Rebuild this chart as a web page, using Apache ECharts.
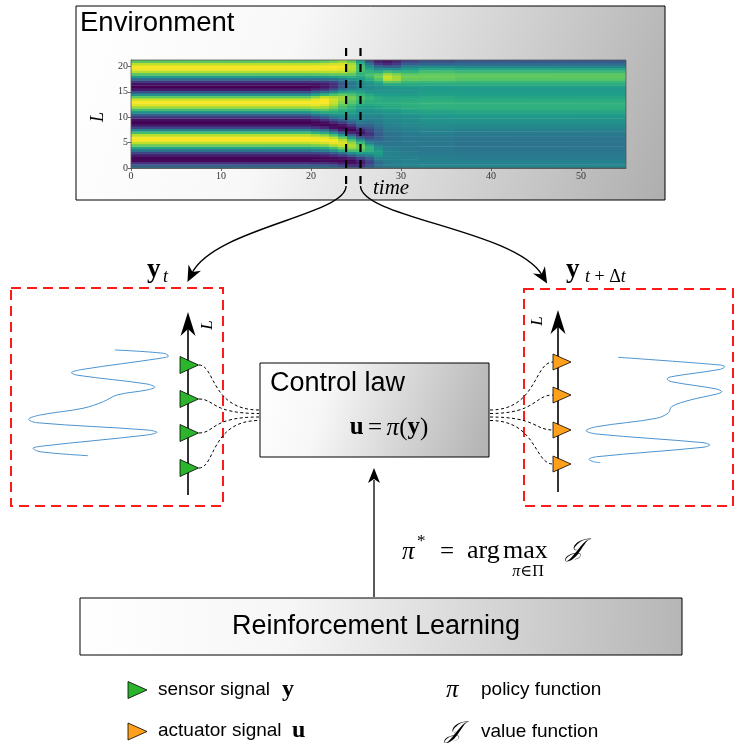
<!DOCTYPE html>
<html><head><meta charset="utf-8">
<script src="https://cdn.jsdelivr.net/npm/echarts@6/dist/echarts.min.js"></script>
<style>html,body{margin:0;padding:0;background:#fff}#c{width:735px;height:743px}</style>
</head><body><div id="c"></div>
<script>
// ---------------- DATA ----------------
const timeTicks = [0, 10, 20, 30, 40, 50];
const lengthTicks = [0, 5, 10, 15, 20];
const timeMax = 55;
const lengthMax = 21.25;
const lengthStep = 0.5;           // each profile: L = 0, 0.5, ... 21 (bottom to top), value 0..100
const profileSteady = [45,30,14,2,1,7,21,38,58,76,90,99,99,89,69,45,22,6,0,4,15,31,50,69,85,96,100,93,75,50,25,7,0,4,16,34,54,74,89,98,99,90,74];
const profileT20 = [45,30,14,2,1,7,22,40,60,78,92,99,98,86,64,40,16,3,1,8,22,38,56,73,88,97,100,97,82,58,32,12,2,4,16,34,54,74,89,98,99,90,74];
const profileT21 = [45,30,14,3,2,9,24,42,62,80,94,100,96,82,60,35,12,1,3,14,28,44,60,74,86,96,100,100,90,66,38,16,6,7,18,35,55,74,89,98,99,91,76];
const profileT22 = [44,28,12,2,3,12,30,50,70,87,97,99,90,72,48,22,4,2,10,24,38,50,60,70,80,88,92,93,88,72,48,26,13,13,22,38,57,76,90,98,100,93,80];
const profileT23 = [40,22,8,2,5,18,38,60,80,92,95,90,76,55,30,8,1,6,18,32,44,52,58,64,70,76,81,85,85,76,58,40,28,26,32,44,60,76,89,96,98,94,84];
const profileT24 = [35,15,4,3,10,28,50,70,84,88,84,72,54,32,10,1,6,18,30,40,47,52,56,60,64,69,74,77,78,72,60,48,40,38,42,52,64,75,84,89,90,86,76];
const profileT25 = [32,14,8,10,20,38,56,70,78,77,68,52,32,14,5,10,22,33,40,44,46,48,50,53,56,61,66,69,70,66,58,50,46,46,50,55,60,65,68,70,70,64,55];
const profileT26 = [35,26,20,22,30,42,55,63,65,58,45,34,24,16,15,20,26,32,38,42,45,48,50,52,55,59,62,64,65,60,52,49,48,50,55,62,68,70,65,58,50,38,25];
const profileT27 = [40,38,35,38,45,52,55,54,50,44,38,33,30,29,30,32,35,38,42,44,45,48,50,54,58,61,62,61,60,56,52,50,50,54,62,72,78,74,62,48,35,18,8];
const profileT28 = [42,42,42,43,45,45,45,44,42,40,38,37,36,37,38,40,42,44,45,47,48,50,52,56,60,62,62,60,58,55,52,51,52,60,75,90,92,85,70,50,30,12,5];
const profileT29 = [43,43,43,43,44,44,44,43,42,40,39,38,38,38,39,41,43,45,46,47,48,50,52,56,60,62,62,60,58,55,52,51,53,60,74,86,86,80,66,48,32,18,10];
const profileT30 = [45,45,45,44,44,43,42,41,40,40,40,40,40,41,42,44,45,47,48,49,50,52,55,59,62,63,63,61,58,55,52,52,55,60,68,76,78,74,65,55,45,30,20];
const profileT32 = [46,46,45,44,43,42,41,40,40,40,40,40,41,42,44,45,47,48,50,51,52,54,57,60,63,64,64,62,60,57,55,54,55,60,68,75,77,75,70,60,48,33,25];
const profileT36 = [46,46,45,44,42,41,40,39,38,38,38,38,39,40,42,44,46,48,50,51,53,55,58,61,63,64,63,61,58,56,54,54,56,61,67,73,75,74,68,58,46,34,28];
const segmentStart = [0, 20, 21, 22, 23, 24, 25, 26, 27, 28, 29, 30, 32, 36];
const segmentEnd   = [20, 21, 22, 23, 24, 25, 26, 27, 28, 29, 30, 32, 36, 55];
const segmentProfile = [profileSteady, profileT20, profileT21, profileT22, profileT23, profileT24, profileT25,
  profileT26, profileT27, profileT28, profileT29, profileT30, profileT32, profileT36];
const snapshotTimes = [23.9, 25.5];
// sensor signal y_t : [amplitude, position]
const signalT = [[0.24,9.82],[0.91,9.52],[0.98,9.27],[0.86,9.06],[-0.20,8.06],[-0.36,7.75],[-0.27,7.52],[0.68,6.73],[0.79,6.43],[0.68,6.18],[0.27,5.73],[0.08,5.12],[-0.20,4.52],[-0.79,3.91],[-0.95,3.52],[-0.84,3.21],[0.68,2.55],[0.82,2.34],[0.68,2.09],[-0.75,1.09],[-0.89,0.88],[-0.79,0.57],[-0.13,0.21]];
// signal y_{t+dt}
const signalTdt = [[-0.49,9.79],[0.87,9.09],[0.93,8.94],[0.87,8.70],[0.22,8.03],[0.16,7.82],[0.22,7.57],[0.82,6.91],[0.89,6.66],[0.82,6.45],[0.47,5.91],[0.22,5.30],[0.18,4.75],[0.02,4.25],[-0.78,3.48],[-0.92,3.12],[-0.78,2.82],[0.64,2.03],[0.73,1.82],[0.64,1.61],[-0.78,0.75],[-0.88,0.52],[-0.82,0.30],[-0.73,0.21]];

// ---------------- BUILD ----------------
const heatData = [];
segmentProfile.forEach((prof, s) => prof.forEach((v, i) => heatData.push([segmentStart[s], segmentEnd[s], i * lengthStep, v])));

const viridis = ['#440154','#482878','#3e4989','#31688e','#26828e','#1f9e89','#35b779','#6ece58','#b5de2b','#fde725'];
const SERIF = '"Liberation Serif","DejaVu Serif",serif';
const SANS = '"Liberation Sans",Arial,sans-serif';

const chart = echarts.init(document.getElementById('c'));
chart.setOption({
  animation: false,
  grid: [
    {left: 131, top: 60, width: 495, height: 108},
    {left: 25, top: 348, width: 145, height: 110},
    {left: 580, top: 355, width: 150, height: 110}
  ],
  xAxis: [
    {gridIndex: 0, type: 'value', min: 0, max: timeMax, interval: 10, splitLine: {show: false},
     axisLine: {show: true, lineStyle: {color: '#444', width: 0.8}},
     axisTick: {show: true, length: 3, lineStyle: {color: '#444', width: 0.8}},
     axisLabel: {showMaxLabel: false, fontFamily: SERIF, fontSize: 10, color: '#333', margin: 3,
       formatter: v => timeTicks.includes(v) ? String(v) : ''}},
    {gridIndex: 1, type: 'value', min: -1, max: 1, show: false},
    {gridIndex: 2, type: 'value', min: -1, max: 1, show: false}
  ],
  yAxis: [
    {gridIndex: 0, type: 'value', min: 0, max: lengthMax, interval: 5, splitLine: {show: false},
     axisLine: {show: true, lineStyle: {color: '#444', width: 0.8}},
     axisTick: {show: true, length: 3, lineStyle: {color: '#444', width: 0.8}},
     axisLabel: {showMaxLabel: false, fontFamily: SERIF, fontSize: 10, color: '#333', margin: 3,
       formatter: v => lengthTicks.includes(v) ? String(v) : ''}},
    {gridIndex: 1, type: 'value', min: 0, max: 10, show: false},
    {gridIndex: 2, type: 'value', min: 0, max: 10, show: false}
  ],
  visualMap: {type: 'continuous', show: false, seriesIndex: 0, dimension: 3, min: 0, max: 100, inRange: {color: viridis}},
  series: [
    {type: 'custom', xAxisIndex: 0, yAxisIndex: 0, data: heatData, encode: {x: [0, 1], y: 2}, clip: true, silent: true,
     renderItem: (params, api) => {
       const L = api.value(2);
       const p0 = api.coord([api.value(0), Math.min(L + lengthStep / 2, lengthMax)]);
       const p1 = api.coord([api.value(1), Math.max(L - lengthStep / 2, 0)]);
       return {type: 'rect', shape: {x: p0[0], y: p0[1], width: p1[0] - p0[0] + 0.4, height: p1[1] - p0[1] + 0.4},
               style: {fill: api.visual('color')}};
     }},
    {type: 'line', xAxisIndex: 1, yAxisIndex: 1, data: signalT, showSymbol: false, smooth: 0.35, silent: true,
     lineStyle: {color: '#4b93cf', width: 1}},
    {type: 'line', xAxisIndex: 2, yAxisIndex: 2, data: signalTdt, showSymbol: false, smooth: 0.35, silent: true,
     lineStyle: {color: '#4b93cf', width: 1}}
  ]
});

// ---------------- DECORATION ----------------
function txt(x, y, text, o = {}) {
  return {type: 'text', x, y, rotation: o.rotation || 0, z: 30,
    style: {text, fontSize: o.size || 16, fontFamily: o.family || SANS, fontStyle: o.style || 'normal',
      fontWeight: o.weight || 'normal', fill: o.color || '#000', rich: o.rich,
      align: o.align || 'left', verticalAlign: o.va || 'middle', textAlign: o.align || 'left', textVerticalAlign: o.va || 'middle'}};
}
function head(tx, ty, dx, dy, len, hw, notch) {
  const m = Math.hypot(dx, dy); dx /= m; dy /= m; const nx = -dy, ny = dx;
  const bx = tx - len * dx, by = ty - len * dy;
  return {type: 'polygon', z: 30, shape: {points: [[tx, ty], [bx + hw * nx, by + hw * ny], [tx - (len - notch) * dx, ty - (len - notch) * dy], [bx - hw * nx, by - hw * ny]]},
    style: {fill: '#000'}};
}
function bez(p0, p1, p2, p3, style) {
  return {type: 'bezierCurve', z: 25, shape: {x1: p0[0], y1: p0[1], cpx1: p1[0], cpy1: p1[1], cpx2: p2[0], cpy2: p2[1], x2: p3[0], y2: p3[1]},
    style: Object.assign({fill: 'none', stroke: '#000', lineWidth: 1.4}, style)};
}
function line(x1, y1, x2, y2, style) {
  return {type: 'line', z: 25, shape: {x1, y1, x2, y2}, style: Object.assign({stroke: '#000', lineWidth: 1.5}, style)};
}
function tri(x, yc, w, h, fill) {
  return {type: 'polygon', z: 30, shape: {points: [[x, yc - h / 2], [x, yc + h / 2], [x + w, yc]]}, style: {fill, stroke: '#000', lineWidth: 0.8}};
}
function grad(x2, y2, stops) {
  return {type: 'linear', x: 0, y: 0, x2, y2, colorStops: stops.map(s => ({offset: s[0], color: s[1]}))};
}

const g = [];
// environment panel
g.push({type: 'rect', z: -5, shape: {x: 76, y: 6, width: 589, height: 194},
  style: {fill: grad(1, 1, [[0, '#ffffff'], [0.35, '#f8f8f8'], [1, '#aeaeae']]), stroke: '#000', lineWidth: 1}});
g.push(txt(80, 23, 'Environment', {size: 27.5}));
const c0 = chart.convertToPixel({gridIndex: 0}, [0, lengthMax]);
const c1 = chart.convertToPixel({gridIndex: 0}, [timeMax, 0]);
g.push({type: 'rect', z: 24, shape: {x: c0[0], y: c0[1], width: c1[0] - c0[0], height: c1[1] - c0[1]},
  style: {fill: 'none', stroke: '#555', lineWidth: 0.8}});
g.push(txt(98, 117, 'L', {family: SERIF, style: 'italic', size: 18, align: 'center', rotation: Math.PI / 2}));
g.push(txt(373, 188, 'time', {family: SERIF, style: 'italic', size: 21}));
const xa = chart.convertToPixel({gridIndex: 0}, [snapshotTimes[0], 0])[0];
const xb = chart.convertToPixel({gridIndex: 0}, [snapshotTimes[1], 0])[0];
g.push(line(xa, 48, xa, 186, {lineWidth: 2.2, lineDash: [8, 8]}));
g.push(line(xb, 48, xb, 186, {lineWidth: 2.2, lineDash: [8, 8]}));
// curved arrows
const lp = [[xa, 186], [xa, 215], [215, 228], [192, 273]];
g.push(bez(lp[0], lp[1], lp[2], lp[3]));
{ const d = [lp[3][0] - lp[2][0], lp[3][1] - lp[2][1]]; const m = Math.hypot(d[0], d[1]);
  g.push(head(lp[3][0] + 10 * d[0] / m, lp[3][1] + 10 * d[1] / m, d[0], d[1], 16, 7, 5)); }
const rp = [[xb, 186], [xb + 1, 218], [515, 230], [542, 275]];
g.push(bez(rp[0], rp[1], rp[2], rp[3]));
{ const d = [rp[3][0] - rp[2][0], rp[3][1] - rp[2][1]]; const m = Math.hypot(d[0], d[1]);
  g.push(head(rp[3][0] + 10 * d[0] / m, rp[3][1] + 10 * d[1] / m, d[0], d[1], 16, 7, 5)); }
// labels y_t, y_{t+dt}
g.push(txt(147, 270, 'y', {family: SERIF, weight: 'bold', size: 27}));
g.push(txt(163, 277, 't', {family: SERIF, style: 'italic', size: 18}));
g.push(txt(566, 270, 'y', {family: SERIF, weight: 'bold', size: 27}));
g.push(txt(585, 277, '{i|t}{r| + Δ}{i|t}', {family: SERIF, size: 18, rich: {
  i: {fontFamily: SERIF, fontStyle: 'italic', fontSize: 18}, r: {fontFamily: SERIF, fontSize: 18}}}));
// red dashed boxes
g.push({type: 'rect', z: 20, shape: {x: 11, y: 288, width: 212, height: 218},
  style: {fill: 'none', stroke: '#ff1a1a', lineWidth: 2, lineDash: [10, 6]}});
g.push({type: 'rect', z: 20, shape: {x: 524, y: 289, width: 209, height: 217},
  style: {fill: 'none', stroke: '#ff1a1a', lineWidth: 2, lineDash: [10, 6]}});
// sensor axes
g.push(line(188, 495, 188, 325, {lineWidth: 1.6}));
g.push(head(188, 312, 0, -1, 24, 7.5, 7));
g.push(txt(208, 325, 'L', {family: SERIF, style: 'italic', size: 17, align: 'center', rotation: Math.PI / 2}));
g.push(line(558, 492, 558, 323, {lineWidth: 1.6}));
g.push(head(558, 310, 0, -1, 24, 7.5, 7));
g.push(txt(538, 321, 'L', {family: SERIF, style: 'italic', size: 17, align: 'center', rotation: Math.PI / 2}));
const leftY = [365, 399, 433, 468], rightY = [362, 395, 430, 464];
const fanL = [410, 413.5, 417, 420.5], fanR = [410, 413.5, 417, 420.5];
leftY.forEach((y, i) => {
  g.push(bez([199, y], [215, y], [211, fanL[i]], [259, fanL[i]], {lineWidth: 1, lineDash: [3, 2.5]}));
  g.push(tri(180, y, 18.5, 17, '#2cb42c'));
});
rightY.forEach((y, i) => {
  g.push(bez([490, fanR[i]], [537, fanR[i]], [534, y], [553, y], {lineWidth: 1, lineDash: [3, 2.5]}));
  g.push(tri(553, y, 18, 16, '#ffa01c'));
});
// control law box
g.push({type: 'rect', z: 26, shape: {x: 260, y: 363, width: 229, height: 94},
  style: {fill: grad(1, 0.7, [[0, '#ffffff'], [0.3, '#f7f7f7'], [1, '#b4b4b4']]), stroke: '#000', lineWidth: 1}});
g.push(txt(270, 384, 'Control law', {size: 27}));
g.push(txt(389, 428, '{b|u} {r|=} {i|π}{r|(}{b|y}{r|)}', {align: 'center', rich: {
  b: {fontFamily: SERIF, fontWeight: 'bold', fontSize: 25}, r: {fontFamily: SERIF, fontSize: 25},
  i: {fontFamily: SERIF, fontStyle: 'italic', fontSize: 25}}}));
// RL arrow
g.push(line(374, 597, 374, 480, {lineWidth: 1.3}));
g.push(head(374, 468, 0, -1, 15, 6, 4));
// formula
g.push(txt(402, 552, 'π', {family: SERIF, style: 'italic', size: 25}));
g.push(txt(417, 542, '*', {family: SERIF, size: 17}));
g.push(txt(440, 552, '=', {family: SERIF, size: 25}));
g.push(txt(467, 551, 'arg', {family: SERIF, size: 26}));
g.push(txt(503, 551, 'max', {family: SERIF, size: 26}));
g.push(txt(528, 572, '{i|π}{r|∈Π}', {align: 'center', rich: {
  i: {fontFamily: SERIF, fontStyle: 'italic', fontSize: 16}, r: {fontFamily: SERIF, fontSize: 16}}}));
g.push(txt(566, 549, '𝒥', {family: '"DejaVu Serif","DejaVu Sans",serif', style: 'italic', size: 25}));
// RL box
g.push({type: 'rect', z: 10, shape: {x: 80, y: 598, width: 602, height: 57},
  style: {fill: grad(1, 0.3, [[0, '#ffffff'], [0.35, '#f6f6f6'], [1, '#b6b6b6']]), stroke: '#000', lineWidth: 1}});
g.push(txt(376, 627, 'Reinforcement Learning', {size: 27, align: 'center'}));
// legend
g.push(tri(128, 690, 19, 17, '#2cb42c'));
g.push(txt(158, 690, 'sensor signal', {size: 19}));
g.push(txt(282, 690, 'y', {family: SERIF, weight: 'bold', size: 24}));
g.push(tri(128, 731.5, 19, 17, '#ffa01c'));
g.push(txt(158, 731, 'actuator signal', {size: 19}));
g.push(txt(292, 731, 'u', {family: SERIF, weight: 'bold', size: 24}));
g.push(txt(446, 690, 'π', {family: SERIF, style: 'italic', size: 25}));
g.push(txt(481, 690, 'policy function', {size: 19}));
g.push(txt(445, 732, '𝒥', {family: '"DejaVu Serif","DejaVu Sans",serif', style: 'italic', size: 24}));
g.push(txt(481, 732, 'value function', {size: 19}));

chart.setOption({graphic: {elements: g}});
</script></body></html>
